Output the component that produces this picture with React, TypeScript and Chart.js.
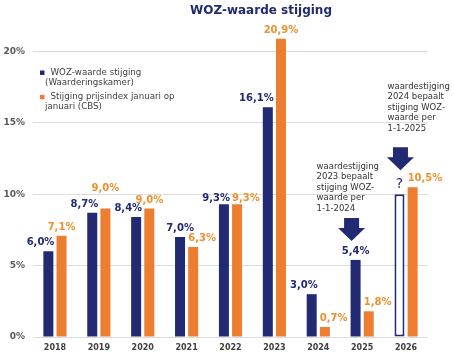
import React, { useEffect, useRef } from 'react';
import { Chart, registerables } from 'chart.js';

Chart.register(...registerables);

// ---- data ----
const categories = ['2018', '2019', '2020', '2021', '2022', '2023', '2024', '2025', '2026'];
const wozValues = [6.0, 8.7, 8.4, 7.0, 9.3, 16.1, 3.0, 5.4, 10.0];
const wozUnknown = [false, false, false, false, false, false, false, false, true];
const cbsValues = [7.1, 9.0, 9.0, 6.3, 9.3, 20.9, 0.7, 1.8, 10.5];
const yTickValues = [0, 5, 10, 15, 20];
const wozName = ['WOZ-waarde stijging', '(Waarderingskamer)'];
const cbsName = ['Stijging prijsindex januari op', 'januari (CBS)'];
const titleText = 'WOZ-waarde stijging';
const note2025 = ['waardestijging', '2023 bepaalt', 'stijging WOZ-', 'waarde per', '1-1-2024'];
const note2026 = ['waardestijging', '2024 bepaalt', 'stijging WOZ-', 'waarde per', '1-1-2025'];

// ---- styling / layout ----
const NAVY = '#212a72';
const ORANGE = '#ed7d31';
const ORANGE_TEXT = '#ef9131';
const FONT = "'DejaVu Sans', Verdana, sans-serif";

const wozAlign = ['right', 'right', 'right', 'center', 'right', 'right', 'right', 'center', 'center'];
const cbsAlign = ['center', 'center', 'center', 'left', 'left', 'center', 'left', 'left', 'left'];
const wozNudge = [0, 0, 0, 0, 3, 0, 0, 0, 0];
const cbsNudge = [0, -12, 0, 0, 3, 0, 0, 0, 0];

const notes = [
  { index: 7, lines: note2025, arrowDx: -4, arrowAbove: 42, textDx: -35, textDy: -51.5 },
  { index: 8, lines: note2026, arrowDx: 1, arrowAbove: 47, textDx: -13, textDy: -60.5 },
];

const fmt = (v: number) => v.toFixed(1).replace('.', ',') + '%';

const overlayPlugin = {
  id: 'overlay',
  afterDatasetsDraw(chart: any) {
    const ctx = chart.ctx as CanvasRenderingContext2D;
    ctx.save();

    // title
    ctx.font = `bold 12px ${FONT}`;
    ctx.fillStyle = NAVY;
    ctx.textAlign = 'center';
    ctx.textBaseline = 'middle';
    ctx.fillText(titleText, 261, 10.5);

    // value labels
    const drawLabels = (dsIndex: number, values: number[], align: string[], nudge: number[], color: string) => {
      const meta = chart.getDatasetMeta(dsIndex);
      meta.data.forEach((bar: any, i: number) => {
        const w = bar.width;
        let text = fmt(values[i]);
        let font = `bold 10px ${FONT}`;
        let above = 8.5;
        if (dsIndex === 0 && wozUnknown[i]) {
          text = '?';
          font = `14px ${FONT}`;
          above = 10;
        }
        ctx.font = font;
        ctx.fillStyle = color;
        ctx.textBaseline = 'middle';
        let x = bar.x;
        const a = align[i];
        if (a === 'right') {
          ctx.textAlign = 'right';
          x = bar.x + w / 2 + 1;
        } else if (a === 'left') {
          ctx.textAlign = 'left';
          x = bar.x - w / 2;
        } else {
          ctx.textAlign = 'center';
        }
        ctx.fillText(text, x, bar.y - above + nudge[i]);
      });
    };
    drawLabels(0, wozValues, wozAlign, wozNudge, NAVY);
    drawLabels(1, cbsValues, cbsAlign, cbsNudge, ORANGE_TEXT);

    // arrows + notes
    const meta0 = chart.getDatasetMeta(0);
    notes.forEach((n) => {
      const bar = meta0.data[n.index];
      const cx = bar.x + n.arrowDx;
      const top = bar.y - n.arrowAbove;
      const stemW = 15, stemH = 10, headW = 27, headH = 13;
      ctx.fillStyle = NAVY;
      ctx.beginPath();
      ctx.moveTo(cx - stemW / 2, top);
      ctx.lineTo(cx + stemW / 2, top);
      ctx.lineTo(cx + stemW / 2, top + stemH);
      ctx.lineTo(cx + headW / 2, top + stemH);
      ctx.lineTo(cx, top + stemH + headH);
      ctx.lineTo(cx - headW / 2, top + stemH);
      ctx.lineTo(cx - stemW / 2, top + stemH);
      ctx.closePath();
      ctx.fill();

      ctx.font = `8.5px ${FONT}`;
      ctx.fillStyle = '#333333';
      ctx.textAlign = 'left';
      ctx.textBaseline = 'middle';
      n.lines.forEach((line, k) => {
        ctx.fillText(line, cx + n.textDx, top + n.textDy + k * 10.5);
      });
    });

    // legend
    const items = [
      { name: wozName, color: NAVY, y: 72.5 },
      { name: cbsName, color: ORANGE, y: 96.8 },
    ];
    items.forEach((it) => {
      ctx.fillStyle = it.color;
      ctx.fillRect(40, it.y - 2, 4.5, 4.5);
      ctx.fillStyle = '#404040';
      ctx.font = `8.7px ${FONT}`;
      ctx.textAlign = 'left';
      ctx.textBaseline = 'middle';
      ctx.fillText(it.name[0], 50.5, it.y);
      ctx.fillText(it.name[1], 45, it.y + 10);
    });

    ctx.restore();
  },
};

export default function App() {
  const canvasRef = useRef<HTMLCanvasElement | null>(null);

  useEffect(() => {
    document.body.style.margin = '0';
    const canvas = canvasRef.current;
    if (!canvas) return;
    const chart = new Chart(canvas, {
      type: 'bar',
      data: {
        labels: categories,
        datasets: [
          {
            label: wozName.join(' '),
            data: wozValues,
            backgroundColor: wozUnknown.map((u) => (u ? '#ffffff' : NAVY)),
            borderColor: NAVY,
            borderWidth: wozUnknown.map((u) => (u ? 2 : 0)),
            borderSkipped: false,
            barPercentage: 0.76,
            categoryPercentage: 0.6,
          },
          {
            label: cbsName.join(' '),
            data: cbsValues,
            backgroundColor: ORANGE,
            borderWidth: 0,
            barPercentage: 0.76,
            categoryPercentage: 0.6,
          },
        ],
      },
      options: {
        responsive: false,
        animation: false,
        devicePixelRatio: 1,
        layout: { padding: { top: 23, right: 26, bottom: 0, left: 0 } },
        plugins: {
          legend: { display: false },
          title: { display: false },
          tooltip: { enabled: false },
        },
        scales: {
          x: {
            grid: { display: false, drawTicks: false },
            border: { display: false },
            ticks: {
              padding: 6,
              color: '#404040',
              font: { family: FONT, size: 8, weight: 'bold' },
            },
            afterFit: (scale: any) => {
              scale.height = 16;
            },
          },
          y: {
            min: 0,
            max: 22,
            grid: { color: '#dcdcdc', lineWidth: 1, drawTicks: false },
            border: { display: false },
            ticks: {
              padding: 8,
              color: '#595959',
              font: { family: FONT, size: 9, weight: 'bold' },
              callback: (v: any) => v + '%',
            },
            afterBuildTicks: (scale: any) => {
              scale.ticks = yTickValues.map((v) => ({ value: v }));
            },
            afterFit: (scale: any) => {
              scale.width = 33;
            },
          },
        },
      },
      plugins: [overlayPlugin],
    });
    return () => chart.destroy();
  }, []);

  return (
    <div style={{ width: 454, height: 353 }}>
      <canvas ref={canvasRef} width={454} height={353} style={{ display: 'block', width: 454, height: 353 }} />
    </div>
  );
}
